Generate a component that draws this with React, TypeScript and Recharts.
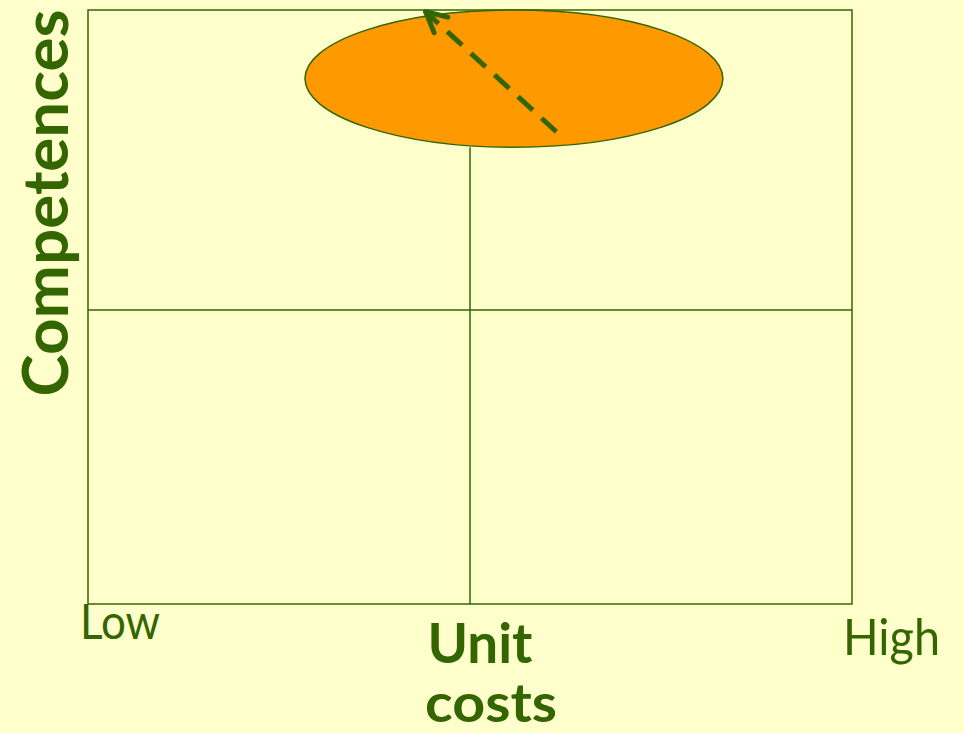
import React from "react";
import {
    ScatterChart,
    Scatter,
    XAxis,
    YAxis,
    ReferenceArea,
    ReferenceLine,
} from "recharts";

// quadrant grid, axis labels
const xTicks = [0, 50, 100];
const xTickLabels = ["Low", "Unit costs", "High"];
const yTitle = "Competences";
const splitX = [50];
const splitY = [49.5];

// orange zone (box that holds the ellipse)
const blobX = [28.4, 83.1];
const blobY = [76.9, 100];

// dashed arrow: tail -> tip, then the two arms of the head
const arrowTail = { x: 61.3, y: 79.5 };
const arrowTip = { x: 44.2, y: 99.7 };
const arrowArms = [
    { x: 45.3, y: 96.2 },
    { x: 47.1, y: 98.8 },
];

const frame = [
    { x: 0, y: 0 },
    { x: 100, y: 100 },
];

const GREEN = "#336600";
const FONT = '"Comic Sans MS", "Lato", "Open Sans", sans-serif';

function XTick(props: any) {
    const { x, y, payload } = props;
    const idx = xTicks.indexOf(payload.value);
    const label = xTickLabels[idx];
    if (idx === 0) {
        return (
            <text x={x - 8} y={y + 27} fill={GREEN} fontFamily={FONT} fontSize={48}
                textLength={80} lengthAdjust="spacingAndGlyphs">{label}</text>
        );
    }
    if (idx === 2) {
        return (
            <text x={x - 9} y={y + 43} fill={GREEN} fontFamily={FONT} fontSize={50}
                textLength={97} lengthAdjust="spacingAndGlyphs">{label}</text>
        );
    }
    const [w1, w2] = label.split(" ");
    return (
        <g fill={GREEN} fontFamily={FONT} fontWeight="bold">
            <text x={x + 10} y={y + 51} fontSize={55} textAnchor="middle" textLength={105} lengthAdjust="spacingAndGlyphs">{w1}</text>
            <text x={x + 21} y={y + 110} fontSize={54} textAnchor="middle" textLength={132} lengthAdjust="spacingAndGlyphs">{w2}</text>
        </g>
    );
}

function YTitle(props: any) {
    const { viewBox } = props;
    const cx = 68;
    const cy = viewBox.y + 193;
    return (
        <text x={cx} y={cy} transform={`rotate(-90 ${cx} ${cy})`} textAnchor="middle"
            fill={GREEN} fontFamily={FONT} fontSize={63} fontWeight="bold"
            textLength={387} lengthAdjust="spacingAndGlyphs">{yTitle}</text>
    );
}

const Ellipse = (p: any) => (
    <ellipse cx={p.x + p.width / 2} cy={p.y + p.height / 2} rx={p.width / 2} ry={p.height / 2}
        fill="#FF9900" stroke={GREEN} strokeWidth={1.5} />
);

export default function App() {
    return (
        <div style={{ position: "absolute", left: 0, top: 0, width: 964, height: 733, background: "#FFFFCC" }}>
            <ScatterChart width={964} height={733} margin={{ top: 10, right: 112, left: 0, bottom: 0 }}>
                <XAxis type="number" dataKey="x" domain={[0, 100]} ticks={xTicks} height={129}
                    axisLine={false} tickLine={false} tick={<XTick />} interval={0} />
                <YAxis type="number" dataKey="y" domain={[0, 100]} width={88}
                    axisLine={false} tickLine={false} tick={false} label={<YTitle />} />
                <Scatter data={frame} fillOpacity={0} isAnimationActive={false} />
                <ReferenceArea x1={0} x2={100} y1={0} y2={100} fill="none" stroke={GREEN} strokeWidth={1.5} />
                <ReferenceLine y={splitY[0]} stroke={GREEN} strokeWidth={1.5} />
                <ReferenceLine segment={[{ x: splitX[0], y: 0 }, { x: splitX[0], y: blobY[0] }]}
                    stroke={GREEN} strokeWidth={1.5} />
                <ReferenceArea x1={blobX[0]} x2={blobX[1]} y1={blobY[0]} y2={blobY[1]} shape={Ellipse} />
                <ReferenceLine segment={[arrowTail, arrowTip]} stroke={GREEN} strokeWidth={5}
                    strokeDasharray="20 12" />
                {arrowArms.map((a, i) => (
                    <ReferenceLine key={i} segment={[arrowTip, a]} stroke={GREEN} strokeWidth={5}
                        strokeLinecap="round" />
                ))}
            </ScatterChart>
        </div>
    );
}
